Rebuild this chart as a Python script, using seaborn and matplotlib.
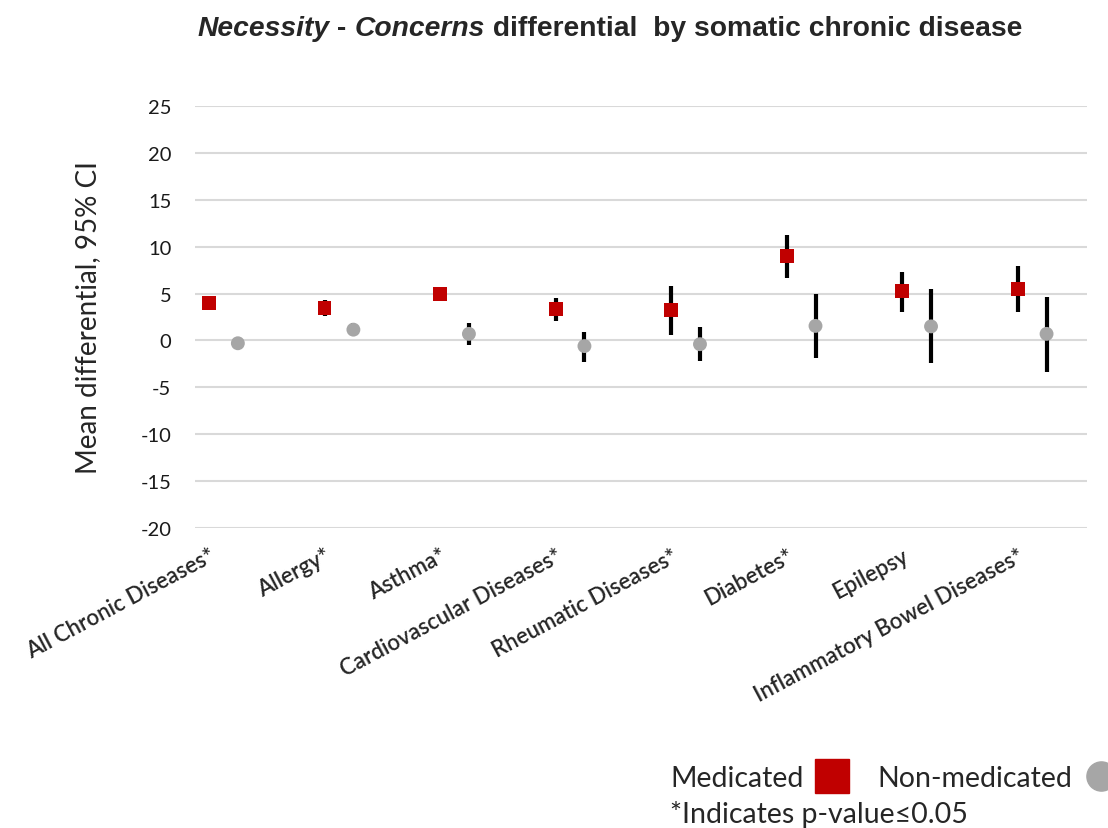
import numpy as np
import pandas as pd
import matplotlib
matplotlib.use("Agg")
import matplotlib.pyplot as plt
from matplotlib.lines import Line2D
from matplotlib import font_manager
import seaborn as sns

categories = ["All Chronic Diseases*", "Allergy*", "Asthma*", "Cardiovascular Diseases*",
              "Rheumatic Diseases*", "Diabetes*", "Epilepsy", "Inflammatory Bowel Diseases*"]
med_mean = [4.0, 3.45, 4.95, 3.4, 3.25, 9.0, 5.25, 5.5]
med_lo = [3.8, 2.6, 4.2, 2.1, 0.55, 6.7, 3.0, 3.0]
med_hi = [4.2, 4.3, 5.7, 4.55, 5.85, 11.25, 7.35, 7.95]
non_mean = [-0.3, 1.15, 0.7, -0.6, -0.4, 1.55, 1.5, 0.7]
non_lo = [-0.8, 0.5, -0.45, -2.25, -2.15, -1.9, -2.4, -3.35]
non_hi = [0.25, 1.9, 1.9, 0.85, 1.4, 5.0, 5.45, 4.65]
y_ticks = [-20, -15, -10, -5, 0, 5, 10, 15, 20, 25]

RED = "#C00000"
GRAY = "#A6A6A6"

sns.set_style("white")
plt.rcParams["font.family"] = ["Lato", "DejaVu Sans"]

installed = {f.name for f in font_manager.fontManager.ttflist}
title_family = "Liberation Sans Narrow" if "Liberation Sans Narrow" in installed else "Liberation Sans"

idx = np.arange(len(categories))
offset = 0.25
df = pd.concat([
    pd.DataFrame({"x": idx, "mean": med_mean, "lo": med_lo, "hi": med_hi,
                  "group": "Medicated"}),
    pd.DataFrame({"x": idx + offset, "mean": non_mean, "lo": non_lo, "hi": non_hi,
                  "group": "Non-medicated"}),
], ignore_index=True)

fig = plt.figure(figsize=(11.08, 8.29), dpi=100)
W, H = 1108, 829
ax = fig.add_axes([195 / W, 1 - 529 / H, (1087 - 195) / W, (529 - 107) / H])

ax.vlines(df["x"], df["lo"], df["hi"], colors="black", linewidth=3.0, zorder=2)
sns.scatterplot(data=df, x="x", y="mean", hue="group", style="group",
                palette={"Medicated": RED, "Non-medicated": GRAY},
                markers={"Medicated": "s", "Non-medicated": "o"},
                s=100, linewidth=0, ax=ax, zorder=3, legend=False)

ax.set_ylim(-20, 25)
ax.set_xlim(-0.121, 7.60)
ax.set_yticks(y_ticks)
ax.set_yticklabels([str(v) for v in y_ticks], fontsize=14.5, color="#1a1a1a")
ax.set_xticks(idx)
ax.set_xticklabels(categories, rotation=28, ha="right", va="top",
                   rotation_mode="anchor", fontsize=16, fontweight="semibold")
ax.tick_params(axis="y", length=0, pad=17)
ax.tick_params(axis="x", length=0, pad=12)
ax.grid(axis="y", color="#d9d9d9", linewidth=1.5)
ax.grid(axis="x", visible=False)
ax.set_axisbelow(True)
for sp in ax.spines.values():
    sp.set_visible(False)
ax.set_xlabel("")
ax.set_ylabel("Mean differential, 95% CI", fontsize=20)
ax.yaxis.set_label_coords((101 - 195) / (1087 - 195), 0.5)

# Title with mixed italic/bold pieces
pieces = [("Necessity", "italic"), (" - ", "normal"), ("Concerns", "italic"),
          (" differential  by somatic chronic disease", "normal")]
texts = []
for s, st in pieces:
    t = fig.text(0, 1 - 29 / H, s, fontsize=16, fontweight="bold", style=st,
                 family=title_family, va="center", ha="left")
    texts.append(t)
fig.canvas.draw()
r = fig.canvas.get_renderer()
total = sum(t.get_window_extent(r).width for t in texts)
new_size = 16 * 823 / total
for t in texts:
    t.set_fontsize(new_size)
fig.canvas.draw()
widths = [t.get_window_extent(r).width for t in texts]
x0 = 197
for t, w in zip(texts, widths):
    t.set_x(x0 / W)
    x0 += w

handles = [Line2D([], [], marker="s", linestyle="", color=RED, markersize=24),
           Line2D([], [], marker="o", linestyle="", color=GRAY, markersize=21)]
fig.legend(handles, ["Medicated", "Non-medicated"], ncol=2, markerfirst=False,
           frameon=False, fontsize=20.5, loc="center left",
           bbox_to_anchor=(670 / W, 1 - 779 / H), handletextpad=0.4,
           handlelength=1.2, columnspacing=1.0, borderaxespad=0, borderpad=0)
fig.text(670 / W, 1 - 815 / H, "*Indicates p-value\u22640.05", fontsize=20.5,
         va="center", ha="left")

fig.savefig("out.png", dpi=100)
